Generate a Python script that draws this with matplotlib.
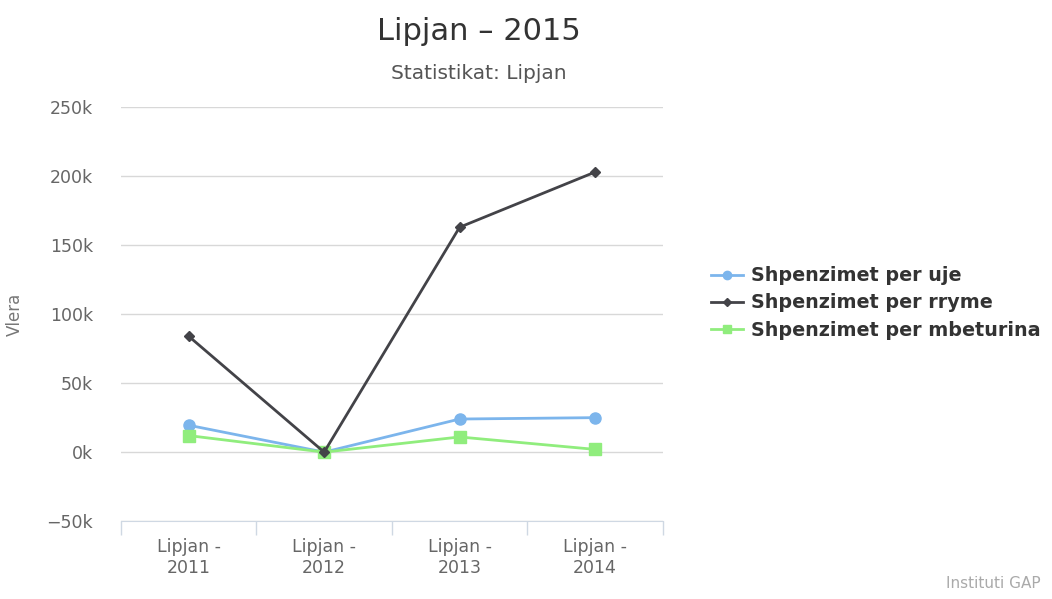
import matplotlib
matplotlib.use("Agg")
import matplotlib.pyplot as plt
from matplotlib.ticker import FuncFormatter, FixedLocator

categories = ["Lipjan -\n2011", "Lipjan -\n2012", "Lipjan -\n2013", "Lipjan -\n2014"]
uje = [19500, 0, 24000, 25000]
rryme = [84000, 0, 163000, 203000]
mbeturina = [12000, 0, 11000, 2000]

fig = plt.figure(figsize=(10.52, 5.99), dpi=100)
ax = fig.add_axes([0.115, 0.130, 0.515, 0.691])

x = list(range(len(categories)))
ax.plot(x, uje, color="#7cb5ec", lw=2, marker="o", ms=8, label="Shpenzimet per uje", zorder=3)
ax.plot(x, rryme, color="#434348", lw=2, marker="D", ms=5.5, label="Shpenzimet per rryme", zorder=4)
ax.plot(x, mbeturina, color="#90ed7d", lw=2, marker="s", ms=8, label="Shpenzimet per mbeturina", zorder=3)

ax.set_xlim(-0.5, 3.5)
ax.set_ylim(-50000, 250000)
ax.set_yticks([-50000, 0, 50000, 100000, 150000, 200000, 250000])
ax.yaxis.set_major_formatter(FuncFormatter(lambda v, p: f"{int(v/1000)}k".replace("-", "\u2212")))
ax.grid(axis="y", color="#d8d8d8", lw=1)
ax.set_axisbelow(True)

ax.set_xticks(x)
ax.set_xticklabels(categories)
ax.xaxis.set_minor_locator(FixedLocator([-0.5, 0.5, 1.5, 2.5, 3.5]))
ax.tick_params(axis="x", which="major", length=0, pad=12, labelcolor="#666666", labelsize=12.5)
ax.tick_params(axis="x", which="minor", length=10, color="#cfd8e3", width=1)
ax.tick_params(axis="y", length=0, labelcolor="#666666", labelsize=12.5, pad=20)
plt.setp(ax.get_xticklabels(), linespacing=1.45)

for s in ["top", "right", "left"]:
    ax.spines[s].set_visible(False)
ax.spines["bottom"].set_color("#cfd8e3")
ax.spines["bottom"].set_position(("data", -50000))

ax.set_ylabel("Vlera", color="#777777", fontsize=12, labelpad=16)

fig.text(0.455, 0.948, "Lipjan – 2015", ha="center", va="center", fontsize=22, color="#333333")
fig.text(0.455, 0.877, "Statistikat: Lipjan", ha="center", va="center", fontsize=14.5, color="#555555")

ax.legend(loc="center left", bbox_to_anchor=(1.057, 0.527), frameon=False,
          prop={"weight": "bold", "size": 13.8}, labelcolor="#333333",
          handlelength=1.7, handletextpad=0.4, labelspacing=0.42, markerscale=0.75)

fig.text(0.989, 0.013, "Instituti GAP", ha="right", va="bottom", fontsize=11, color="#aaaaaa")

fig.savefig("out.png", dpi=100)
